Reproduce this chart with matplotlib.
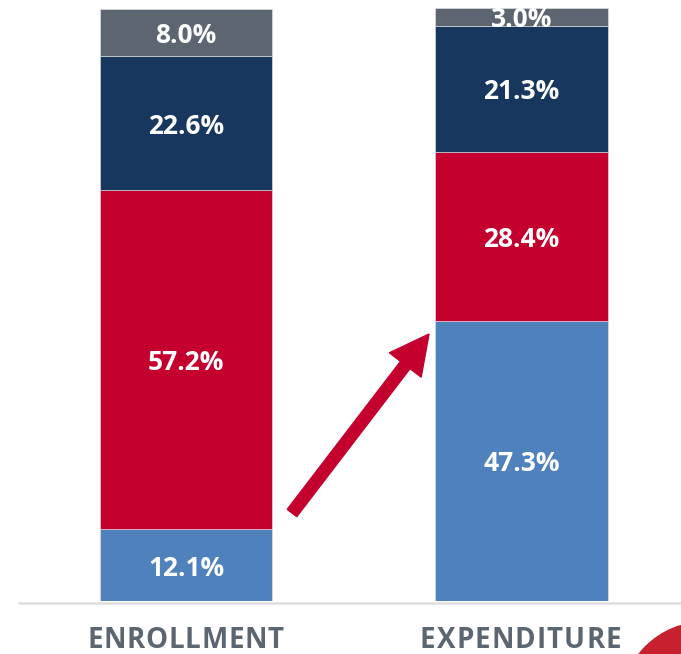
import numpy as np
import matplotlib
matplotlib.use("Agg")
import matplotlib.pyplot as plt
from matplotlib.patches import FancyArrow, Circle
from matplotlib.transforms import IdentityTransform

# shares (%) for each group, bottom to top
categories = ["ENROLLMENT", "EXPENDITURE"]
blue_share = [12.1, 47.3]
red_share = [57.2, 28.4]
navy_share = [22.6, 21.3]
gray_share = [8.0, 3.0]

series = [blue_share, red_share, navy_share, gray_share]
colors = ["#4f81bd", "#c4002f", "#17375e", "#5d6670"]

W, H = 681, 654
fig = plt.figure(figsize=(W / 100, H / 100), dpi=100)
ax = fig.add_axes([0, (H - 601) / H, 1, 593 / H])

x = np.arange(len(categories))
bottom = np.zeros(len(categories))
for vals, col in zip(series, colors):
    vals = np.array(vals)
    ax.bar(x, vals, bottom=bottom, width=0.5127, color=col,
           edgecolor="#e6e6e6", linewidth=0.4, zorder=2)
    for xi, b, v in zip(x, bottom, vals):
        # small downward nudge so the digits sit centred like the original
        ax.text(xi, b + v / 2 - 0.5, f"{v:.1f}%", ha="center", va="center",
                color="white", fontsize=19, fontweight="bold",
                family="Open Sans", zorder=3)
    bottom = bottom + vals

ax.set_xlim(-186 / 335.5, (W - 186) / 335.5)
ax.set_ylim(0, 100)
ax.axhline(-0.3, xmin=19 / W, xmax=1, color="#dedede", lw=1.8, zorder=1,
           clip_on=False)
ax.axis("off")


def spaced_text(xc, yc, s, target, **kw):
    # draw letters one by one so the word spans the target width in pixels
    r = fig.canvas.get_renderer()
    widths = []
    for ch in s:
        t = fig.text(0, 0, ch, **kw)
        widths.append(t.get_window_extent(r).width)
        t.remove()
    gap = (target - sum(widths)) / (len(s) - 1)
    xp = xc - target / 2
    for ch, w in zip(s, widths):
        fig.text(xp / W, 1 - yc / H, ch, ha="left", va="center", **kw)
        xp += w + gap


label_kw = dict(fontsize=20, fontweight="bold", family="Open Sans", color="#5b6670")
spaced_text(185.5, 641, categories[0], 197, **label_kw)
spaced_text(520.5, 641, categories[1], 201, **label_kw)

# arrow from enrollment to expenditure
arrow = FancyArrow(292, H - 513, 137, 179, width=12, head_width=40,
                   head_length=39, length_includes_head=True,
                   color="#c4002f", transform=IdentityTransform())
fig.add_artist(arrow)

# corner decoration
fig.add_artist(Circle((705, H - 706), 84, color="#c8202f",
                      transform=IdentityTransform()))

fig.savefig("out.png", dpi=100)
